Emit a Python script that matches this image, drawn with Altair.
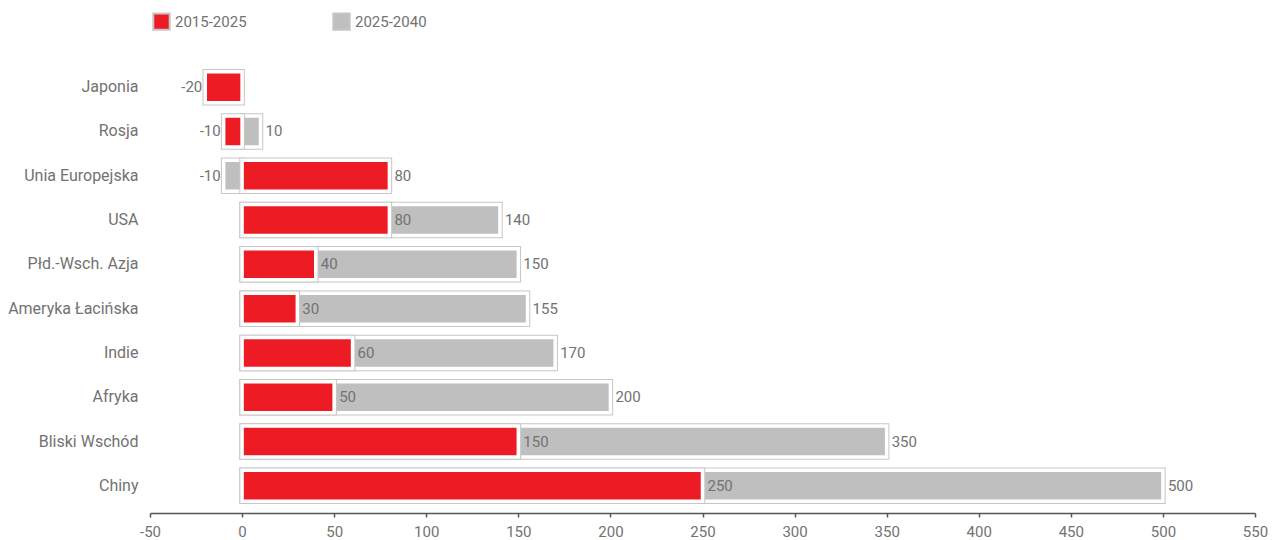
import altair as alt
import pandas as pd

countries = ["Japonia", "Rosja", "Unia Europejska", "USA", "Płd.-Wsch. Azja",
             "Ameryka Łacińska", "Indie", "Afryka", "Bliski Wschód", "Chiny"]
s1_name = "2015-2025"
s2_name = "2025-2040"
s1_values = [-20, -10, 80, 80, 40, 30, 60, 50, 150, 250]
s2_values = [None, 10, -10, 140, 150, 155, 170, 200, 350, 500]
x_ticks = [-50, 0, 50, 100, 150, 200, 250, 300, 350, 400, 450, 500, 550]

RED = "#ED1C24"
GRAY = "#BFBFBF"
OUTLINE = "#C6C6C6"
TXT = "#727272"
FONT = "Roboto"
FS = 15

rows = []
for c, v in zip(countries, s1_values):
    if v is not None:
        rows.append({"country": c, "series": s1_name, "value": v, "label": str(v)})
for c, v in zip(countries, s2_values):
    if v is not None:
        rows.append({"country": c, "series": s2_name, "value": v, "label": str(v)})
df = pd.DataFrame(rows)

base = alt.Chart(df)
y_enc = alt.Y("country:N", sort=countries, title=None,
              scale=alt.Scale(paddingInner=0, paddingOuter=0),
              axis=alt.Axis(ticks=False, domain=False, labelFontSize=16, labelColor=TXT,
                            labelFont=FONT, labelPadding=12))
x_enc = alt.X("value:Q", title=None,
              scale=alt.Scale(domain=[-50, 550], nice=False, zero=False),
              axis=alt.Axis(values=x_ticks, grid=False, domainColor="#555555", tickColor="#555555",
                            tickSize=4, domainWidth=1.5, tickWidth=1.5, labelFontSize=FS,
                            labelColor=TXT, labelFont=FONT, labelPadding=7, offset=5,
                            labelFlush=False, labelExpr="'' + datum.value"))
color_enc = alt.Color("series:N", title=None,
                      scale=alt.Scale(domain=[s1_name, s2_name], range=[RED, GRAY]),
                      legend=alt.Legend(orient="none", legendX=2, legendY=-53, direction="horizontal",
                                        symbolType="square", symbolSize=270,
                                        symbolStrokeColor=OUTLINE, symbolStrokeWidth=2,
                                        labelFontSize=FS, labelColor=TXT, labelFont=FONT,
                                        columnPadding=82, labelOffset=4))

SIZE = 31

def bar_layers(series):
    f = alt.datum.series == series
    outline = base.transform_filter(f).mark_bar(size=SIZE, stroke=OUTLINE, strokeWidth=5.5).encode(
        y=y_enc, x=x_enc, x2=alt.datum(0), color=color_enc)
    fill = base.transform_filter(f).mark_bar(size=SIZE, stroke="white", strokeWidth=3.5).encode(
        y=y_enc, x=x_enc, x2=alt.datum(0), color=color_enc)
    return [outline, fill]

txt_pos = base.transform_filter(alt.datum.value >= 0).mark_text(
    align="left", baseline="middle", dx=5, fontSize=FS, color=TXT, font=FONT).encode(
    y=y_enc, x=x_enc, text="label:N")
txt_neg = base.transform_filter(alt.datum.value < 0).mark_text(
    align="right", baseline="middle", dx=-3, fontSize=FS, color=TXT, font=FONT).encode(
    y=y_enc, x=x_enc, text="label:N")

chart = alt.layer(*bar_layers(s2_name), *bar_layers(s1_name), txt_pos, txt_neg).properties(
    width=1105, height=443,
    background="white",
    autosize=alt.AutoSizeParams(type="none"),
    padding={"left": 150, "top": 65, "right": 25, "bottom": 32},
).configure_view(stroke=None, strokeWidth=0)

chart.save("out.html", embed_options={"renderer": "svg", "actions": False})
